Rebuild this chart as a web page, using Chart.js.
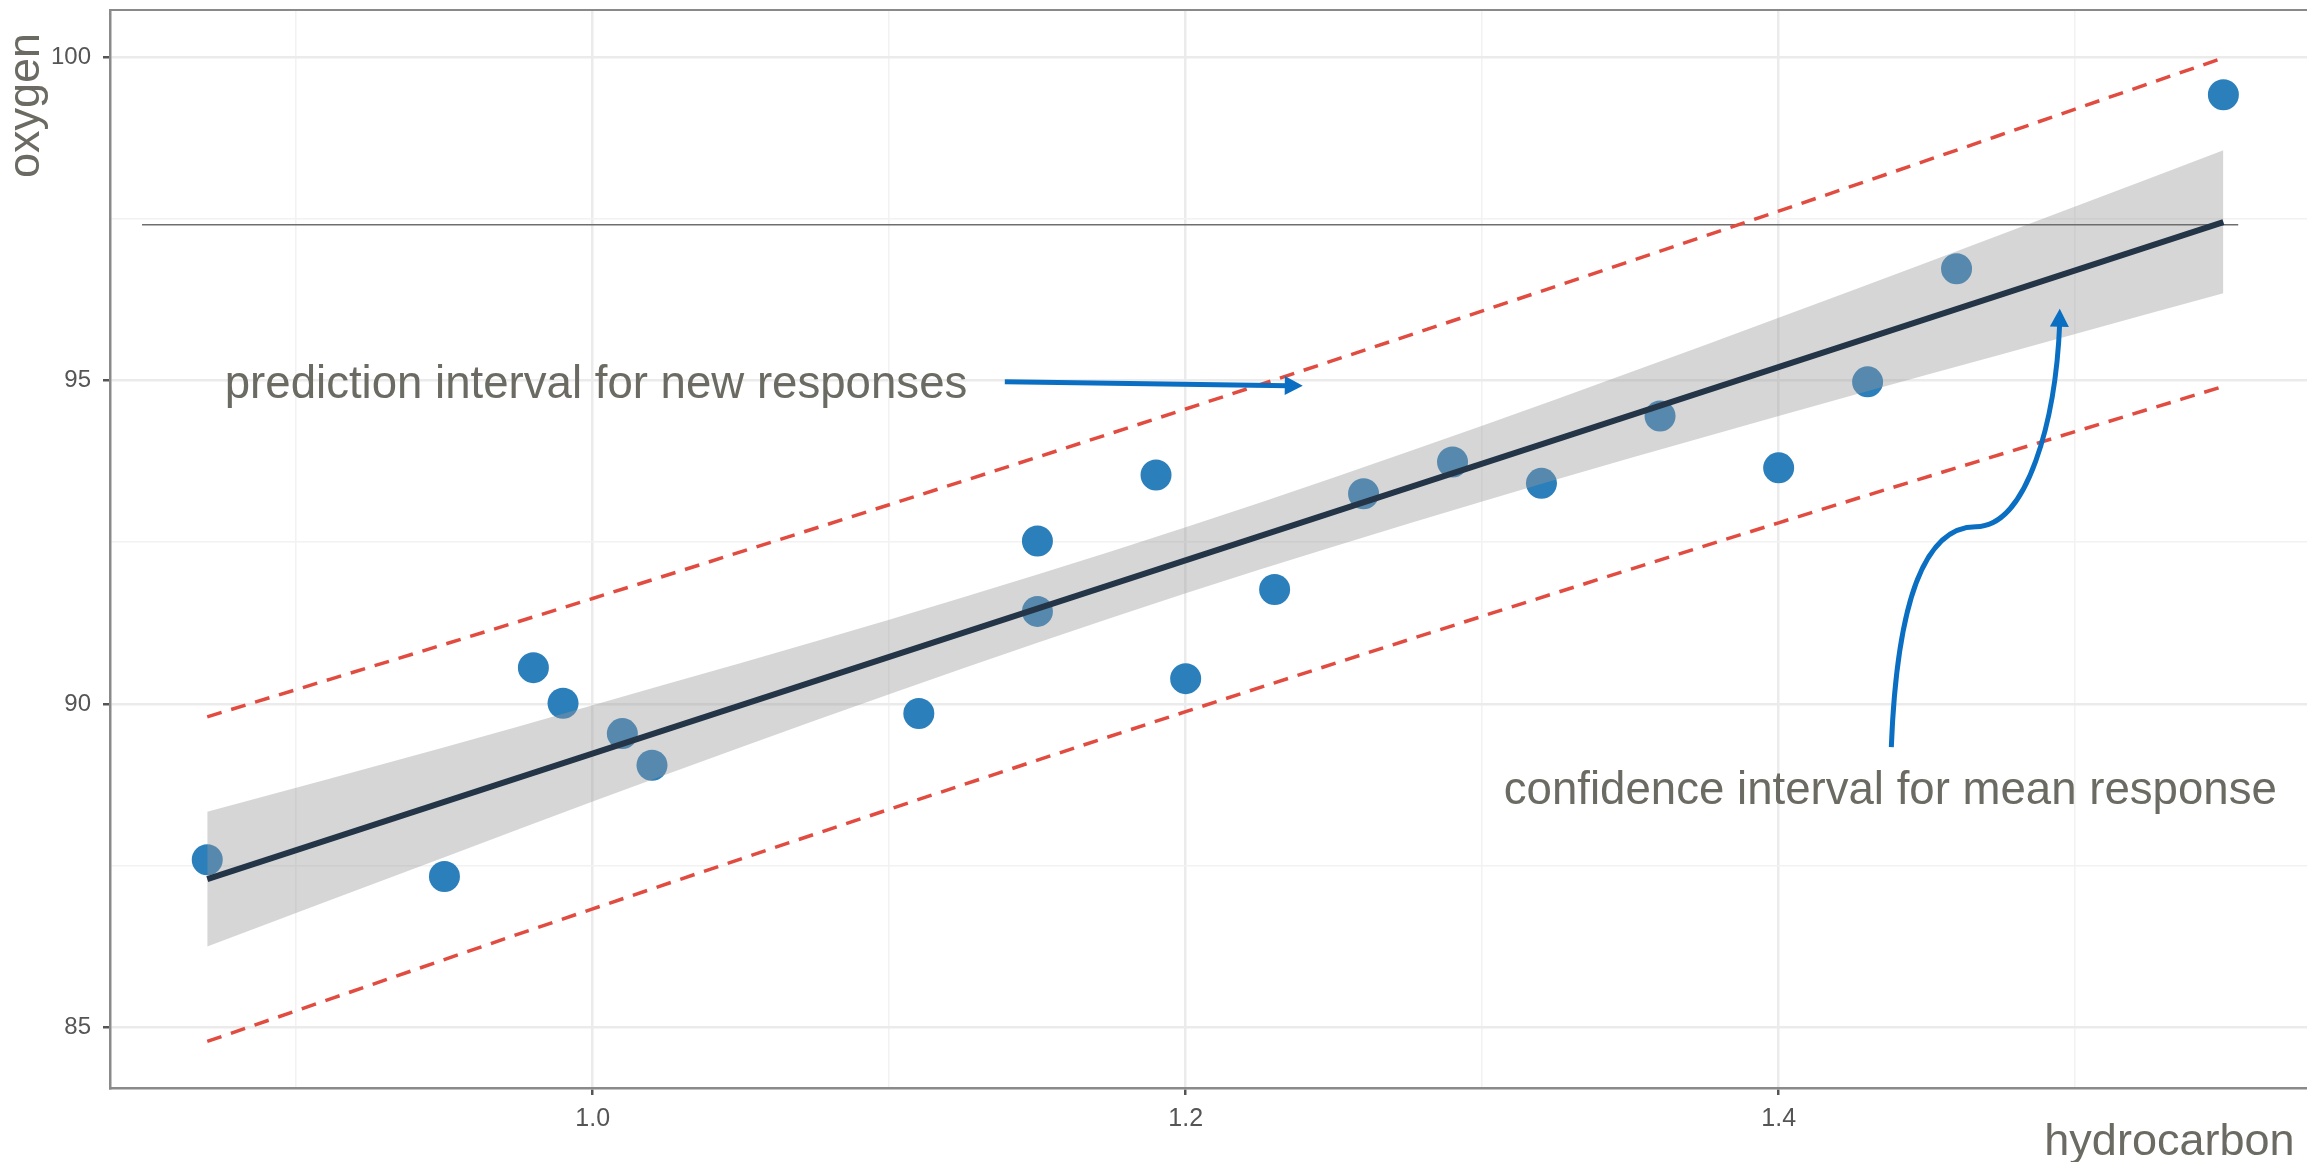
<!DOCTYPE html>
<html>
<head>
<meta charset="utf-8">
<script src="https://cdn.jsdelivr.net/npm/chart.js@4.4.1/dist/chart.umd.min.js"></script>
<style>
  html, body { margin: 0; padding: 0; background: #ffffff; }
  #wrap { width: 2307px; height: 1162px; }
</style>
</head>
<body>
<div id="wrap"><canvas id="chart" width="2307" height="1162"></canvas></div>
<script>
// Observed data
const hydrocarbon = [0.99, 1.02, 1.15, 1.29, 1.46, 1.36, 0.87, 1.23, 1.55, 1.40, 1.19, 1.15, 0.98, 1.01, 1.11, 1.20, 1.26, 1.32, 1.43, 0.95];
const oxygen = [90.01, 89.05, 91.43, 93.74, 96.73, 94.45, 87.59, 91.77, 99.42, 93.65, 93.54, 92.52, 90.56, 89.54, 89.85, 90.39, 93.25, 93.41, 94.98, 87.33];

// Fitted line
const fitX = [0.87, 1.55];
const fitY = [87.29, 97.45];

// Confidence band for the mean response
const bandX = [0.87, 0.95, 1.0, 1.1, 1.2, 1.3, 1.4, 1.5, 1.55];
const bandUpper = [88.33, 89.33, 89.98, 91.30, 92.73, 94.30, 95.97, 97.69, 98.56];
const bandLower = [86.25, 87.63, 88.49, 90.15, 91.71, 93.13, 94.45, 95.72, 96.35];

// Prediction interval
const piX = [0.87, 1.0, 1.2, 1.4, 1.55];
const piUpper = [89.80, 91.63, 94.56, 97.62, 99.99];
const piLower = [84.78, 86.83, 89.88, 92.80, 94.91];

// Thin horizontal reference line
const refX = [0.848, 1.555];
const refY = [97.41, 97.41];

// Tick labels
const xMajorTicks = [1.0, 1.2, 1.4];
const yMajorTicks = [85, 90, 95, 100];

function pairs(xs, ys) {
    return xs.map((x, i) => ({ x: x, y: ys[i] }));
}

function isMajor(value, list) {
    return list.some(t => Math.abs(t - value) < 1e-6);
}

const textColor = '#6b6b63';
const arrowColor = '#0a6fc2';
const fontFamily = '"Liberation Sans", Arial, sans-serif';
const textFont = '45.6px ' + fontFamily;

// Annotations: positions in data units
const annotations = {
    prediction: { text: 'prediction interval for new responses', x: 0.8759, y: 94.93 },
    confidence: { text: 'confidence interval for mean response', x: 1.3073, y: 88.65 },
    straightArrow: { from: [1.139, 94.98], to: [1.2395, 94.92] },
    curvedArrow: {
        start: [1.438, 89.33],
        c1: [1.440, 91.7], c2: [1.450, 92.74], kink: [1.4665, 92.74],
        c3: [1.484, 92.74], c4: [1.4935, 94.4], tip: [1.4948, 96.11]
    }
};

function drawHead(ctx, x, y, angle) {
    ctx.save();
    ctx.translate(x, y);
    ctx.rotate(angle);
    ctx.beginPath();
    ctx.moveTo(0, 0);
    ctx.lineTo(-18, -9.5);
    ctx.lineTo(-18, 9.5);
    ctx.closePath();
    ctx.fill();
    ctx.restore();
}

const annotationPlugin = {
    id: 'annotationPlugin',
    beforeDatasetsDraw(chart) {
        // top border of the panel
        const { ctx, chartArea } = chart;
        ctx.save();
        ctx.strokeStyle = '#8a8a8a';
        ctx.lineWidth = 2;
        ctx.beginPath();
        ctx.moveTo(chartArea.left, chartArea.top);
        ctx.lineTo(chartArea.right, chartArea.top);
        ctx.stroke();
        ctx.restore();
    },
    afterDraw(chart) {
        // y axis title, reading upward, ending a little below the panel top
        const { ctx, chartArea } = chart;
        ctx.save();
        ctx.font = '45px ' + fontFamily;
        ctx.fillStyle = textColor;
        ctx.translate(39, chartArea.top + 23);
        ctx.rotate(-Math.PI / 2);
        ctx.textAlign = 'right';
        ctx.textBaseline = 'alphabetic';
        ctx.fillText('oxygen', 0, 0);
        ctx.restore();
    },
    afterDatasetsDraw(chart) {
        const { ctx } = chart;
        const xs = chart.scales.x;
        const ys = chart.scales.y;
        const px = p => [xs.getPixelForValue(p[0]), ys.getPixelForValue(p[1])];

        ctx.save();
        ctx.font = textFont;
        ctx.fillStyle = textColor;
        ctx.textBaseline = 'middle';
        ctx.textAlign = 'left';
        [annotations.prediction, annotations.confidence].forEach(a => {
            ctx.fillText(a.text, xs.getPixelForValue(a.x), ys.getPixelForValue(a.y));
        });

        // straight arrow
        ctx.strokeStyle = arrowColor;
        ctx.fillStyle = arrowColor;
        ctx.lineWidth = 5;
        const s = px(annotations.straightArrow.from);
        const e = px(annotations.straightArrow.to);
        ctx.beginPath();
        ctx.moveTo(s[0], s[1]);
        ctx.lineTo(e[0] - 14, e[1]);
        ctx.stroke();
        drawHead(ctx, e[0], e[1], Math.atan2(e[1] - s[1], e[0] - s[0]));

        // curved arrow
        const c = annotations.curvedArrow;
        const p0 = px(c.start), p1 = px(c.c1), p2 = px(c.c2), p3 = px(c.kink);
        const p4 = px(c.c3), p5 = px(c.c4), p6 = px(c.tip);
        ctx.beginPath();
        ctx.moveTo(p0[0], p0[1]);
        ctx.bezierCurveTo(p1[0], p1[1], p2[0], p2[1], p3[0], p3[1]);
        ctx.bezierCurveTo(p4[0], p4[1], p5[0], p5[1], p6[0], p6[1] + 14);
        ctx.stroke();
        drawHead(ctx, p6[0], p6[1], -Math.PI / 2 + 0.02);
        ctx.restore();
    }
};

const ctx = document.getElementById('chart').getContext('2d');
new Chart(ctx, {
    type: 'scatter',
    data: {
        datasets: [
            {
                label: 'fit',
                type: 'line',
                data: pairs(fitX, fitY),
                borderColor: '#243548',
                borderWidth: 6,
                pointRadius: 0,
                fill: false,
                order: 0
            },
            {
                label: 'pi upper',
                type: 'line',
                data: pairs(piX, piUpper),
                borderColor: '#e14b40',
                borderWidth: 3.5,
                borderDash: [15, 10],
                pointRadius: 0,
                cubicInterpolationMode: 'monotone',
                fill: false,
                order: 1
            },
            {
                label: 'pi lower',
                type: 'line',
                data: pairs(piX, piLower),
                borderColor: '#e14b40',
                borderWidth: 3.5,
                borderDash: [15, 10],
                pointRadius: 0,
                cubicInterpolationMode: 'monotone',
                fill: false,
                order: 1
            },
            {
                label: 'reference',
                type: 'line',
                data: pairs(refX, refY),
                borderColor: '#6e6e6e',
                borderWidth: 1.5,
                pointRadius: 0,
                fill: false,
                order: 2
            },
            {
                label: 'band upper',
                type: 'line',
                data: pairs(bandX, bandUpper),
                borderWidth: 0,
                borderColor: 'rgba(0,0,0,0)',
                backgroundColor: 'rgba(153,153,153,0.4)',
                pointRadius: 0,
                cubicInterpolationMode: 'monotone',
                fill: '+1',
                order: 3
            },
            {
                label: 'band lower',
                type: 'line',
                data: pairs(bandX, bandLower),
                borderWidth: 0,
                borderColor: 'rgba(0,0,0,0)',
                pointRadius: 0,
                cubicInterpolationMode: 'monotone',
                fill: false,
                order: 3
            },
            {
                label: 'observations',
                data: pairs(hydrocarbon, oxygen),
                backgroundColor: '#2b7fbb',
                borderWidth: 0,
                pointRadius: 15.5,
                pointHoverRadius: 15.5,
                order: 4
            }
        ]
    },
    options: {
        responsive: false,
        animation: false,
        devicePixelRatio: 1,
        layout: { autoPadding: false, padding: { top: 10, right: 0, left: 0, bottom: 0 } },
        plugins: {
            legend: { display: false },
            tooltip: { enabled: false }
        },
        scales: {
            x: {
                type: 'linear',
                min: 0.8372,
                max: 1.5782,
                afterFit(scale) {
                    scale.height = 74;
                    scale.paddingLeft = 0;
                    scale.paddingRight = 0;
                },
                ticks: {
                    stepSize: 0.1,
                    includeBounds: false,
                    autoSkip: false,
                    maxRotation: 0,
                    padding: 9,
                    color: '#555555',
                    font: { family: fontFamily, size: 25 },
                    callback: v => isMajor(v, xMajorTicks) ? v.toFixed(1) : ''
                },
                grid: {
                    color: c => isMajor(c.tick.value, xMajorTicks) ? '#ebebeb' : '#f2f2f2',
                    lineWidth: c => isMajor(c.tick.value, xMajorTicks) ? 2.5 : 1.5,
                    tickColor: c => isMajor(c.tick.value, xMajorTicks) ? '#555555' : 'rgba(0,0,0,0)',
                    tickLength: 7,
                    tickWidth: 2.5
                },
                border: { display: true, color: '#8a8a8a', width: 2.5 },
                title: {
                    display: true,
                    text: 'hydrocarbon ',
                    align: 'end',
                    color: textColor,
                    font: { family: fontFamily, size: 45, lineHeight: 1 },
                    padding: { top: 0, bottom: -3 }
                }
            },
            y: {
                type: 'linear',
                min: 84.06,
                max: 100.73,
                afterFit(scale) {
                    scale.width = 110;
                    scale.paddingTop = 0;
                    scale.paddingBottom = 0;
                },
                ticks: {
                    stepSize: 2.5,
                    includeBounds: false,
                    autoSkip: false,
                    padding: 12,
                    color: '#555555',
                    font: { family: fontFamily, size: 24 },
                    callback: v => isMajor(v, yMajorTicks) ? String(v) : ''
                },
                grid: {
                    color: c => isMajor(c.tick.value, yMajorTicks) ? '#ebebeb' : '#f2f2f2',
                    lineWidth: c => isMajor(c.tick.value, yMajorTicks) ? 2.5 : 1.5,
                    tickColor: c => isMajor(c.tick.value, yMajorTicks) ? '#555555' : 'rgba(0,0,0,0)',
                    tickLength: 7,
                    tickWidth: 2.5
                },
                border: { display: true, color: '#8a8a8a', width: 2.5 },
                title: { display: false }
            }
        }
    },
    plugins: [annotationPlugin]
});
</script>
</body>
</html>
